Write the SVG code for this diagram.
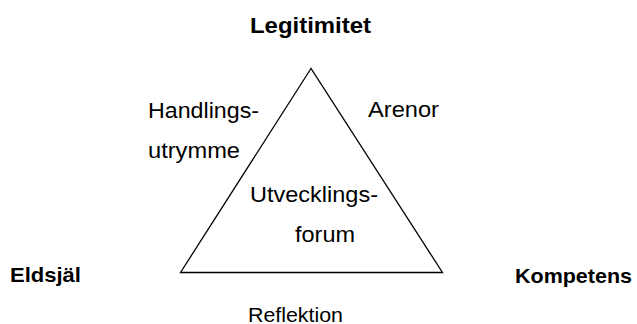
<svg xmlns="http://www.w3.org/2000/svg" width="637" height="324" viewBox="0 0 637 324">
  <style>
    text { font-family: "Liberation Sans", Arial, sans-serif; fill: #000; }
    .reg { font-size: 22.5px; }
    .small { font-size: 21px; }
    .bold { font-weight: bold; font-size: 20.5px; }
    .title { font-weight: bold; font-size: 22.5px; }
    .tri { fill: none; stroke: #000; stroke-width: 1.3; stroke-linejoin: miter; }
  </style>
  <rect width="637" height="324" fill="#fff"/>
  <g id="connectors"></g>
  <g id="triangle">
    <polygon class="tri" points="311,68.5 180.5,272.5 442.5,272.5"/>
  </g>
  <g id="legitimitet">
    <text class="title" x="250" y="33" textLength="121" lengthAdjust="spacingAndGlyphs">Legitimitet</text>
  </g>
  <g id="handlingsutrymme">
    <text class="reg" x="148" y="117.5" textLength="111" lengthAdjust="spacingAndGlyphs">Handlings-</text>
    <text class="reg" x="148" y="158" textLength="92" lengthAdjust="spacingAndGlyphs">utrymme</text>
  </g>
  <g id="arenor">
    <text class="reg" x="368" y="117" textLength="71" lengthAdjust="spacingAndGlyphs">Arenor</text>
  </g>
  <g id="utvecklingsforum">
    <text class="reg" x="250" y="201.5" textLength="128" lengthAdjust="spacingAndGlyphs">Utvecklings-</text>
    <text class="reg" x="295" y="241.5" textLength="60" lengthAdjust="spacingAndGlyphs">forum</text>
  </g>
  <g id="eldsjal">
    <text class="bold" x="10" y="282" textLength="71" lengthAdjust="spacingAndGlyphs">Eldsjäl</text>
  </g>
  <g id="kompetens">
    <text class="bold" x="515" y="282.5" textLength="117" lengthAdjust="spacingAndGlyphs">Kompetens</text>
  </g>
  <g id="reflektion">
    <text class="small" x="248" y="321.5" textLength="95" lengthAdjust="spacingAndGlyphs">Reflektion</text>
  </g>
</svg>
